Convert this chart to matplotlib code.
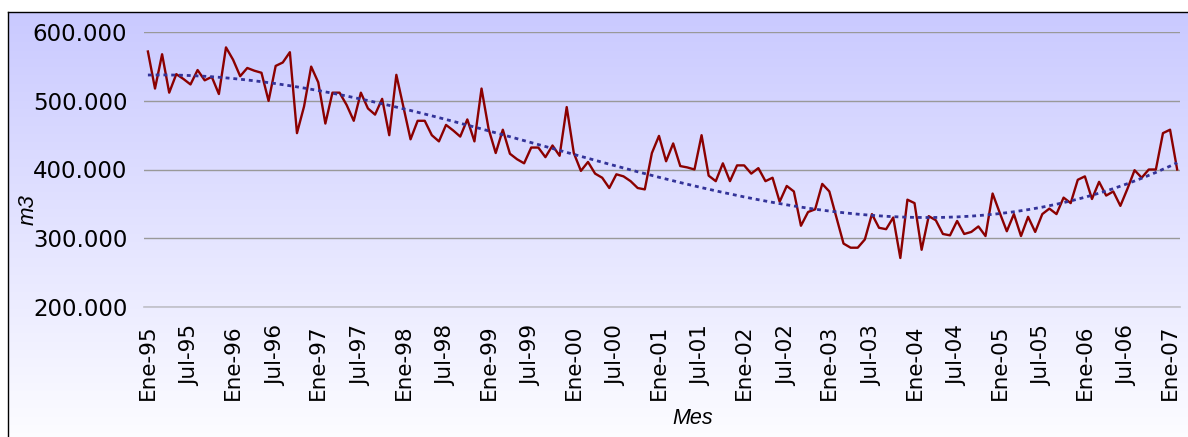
import numpy as np
import matplotlib
matplotlib.use("Agg")
import matplotlib.pyplot as plt
from matplotlib.ticker import FuncFormatter

# consumo mensual (miles de m3), Ene-95 .. Feb-07
consumo_miles = [
    572, 518, 568, 512, 539, 532, 524, 545, 530, 535, 510, 578,
    560, 536, 548, 544, 541, 500, 551, 556, 571, 453, 492, 550,
    527, 467, 512, 512, 494, 471, 512, 489, 480, 503, 450, 538,
    491, 444, 471, 471, 450, 441, 465, 457, 448, 473, 441, 518,
    459, 424, 458, 423, 415, 409, 432, 432, 418, 435, 420, 491,
    424, 398, 411, 394, 388, 373, 393, 390, 383, 373, 371, 424,
    449, 412, 438, 405, 403, 400, 450, 391, 383, 409, 383, 406,
    406, 394, 402, 383, 388, 353, 376, 368, 318, 338, 342, 379,
    368, 330, 292, 286, 286, 298, 335, 315, 313, 330, 271, 356,
    351, 283, 332, 326, 306, 304, 325, 306, 309, 317, 303, 365,
    337, 310, 335, 303, 331, 309, 335, 343, 335, 359, 351, 385,
    390, 357, 382, 362, 368, 347, 372, 399, 388, 400, 400, 453,
    458, 400,
]
tick_labels = [
    "Ene-95", "Jul-95", "Ene-96", "Jul-96", "Ene-97", "Jul-97", "Ene-98",
    "Jul-98", "Ene-99", "Jul-99", "Ene-00", "Jul-00", "Ene-01", "Jul-01",
    "Ene-02", "Jul-02", "Ene-03", "Jul-03", "Ene-04", "Jul-04", "Ene-05",
    "Jul-05", "Ene-06", "Jul-06", "Ene-07",
]
y_ticks = [200000, 300000, 400000, 500000, 600000]

valores = np.array(consumo_miles) * 1000
meses = np.arange(len(valores))
# linea de tendencia polinomica (orden 3), como la de la hoja de calculo
tendencia = np.polyval(np.polyfit(meses, valores, 3), meses)

W, H = 1188, 437
fig = plt.figure(figsize=(W / 100, H / 100), dpi=100)

# fondo degradado con borde negro
bg = fig.add_axes([8 / W, -0.05, 1.05, 1 - 12 / H + 0.05], zorder=0)
grad = np.linspace(0, 1, 256).reshape(-1, 1)
top = np.array([0.79, 0.79, 1.0])
bottom = np.array([1.0, 1.0, 1.0])
img = top + (bottom - top) * grad[..., None]
bg.imshow(img, aspect="auto", extent=[0, 1, 0, 1], origin="upper")
bg.set_xticks([])
bg.set_yticks([])
for s in ["right", "bottom"]:
    bg.spines[s].set_visible(False)
for s in ["left", "top"]:
    bg.spines[s].set_linewidth(1.0)
    bg.spines[s].set_color("black")

ax = fig.add_axes([144 / W, 1 - 306.7 / H, (1180 - 144) / W, (306.7 - 32.3) / H], zorder=1)
ax.patch.set_alpha(0)
ax.plot(meses, valores, color="#8b0000", lw=1.7, zorder=3)
ax.plot(meses, tendencia, color="#333399", lw=2.0, linestyle=(0, (1.4, 1.4)), zorder=4)

ax.set_xlim(-0.55, 145.4)
ax.set_ylim(200000, 600000)
ax.set_yticks(y_ticks)
ax.yaxis.set_major_formatter(FuncFormatter(lambda v, p: f"{int(v):,}".replace(",", ".")))
ax.set_xticks(range(0, 6 * len(tick_labels), 6))
ax.set_xticklabels(tick_labels, rotation=90)
ax.tick_params(axis="y", length=0, pad=12, labelsize=16.5)
ax.tick_params(axis="x", length=0, pad=13, labelsize=15.5)
ax.grid(axis="y", color="#999999", lw=1.0)
ax.set_axisbelow(True)
for s in ["left", "right", "top"]:
    ax.spines[s].set_visible(False)
ax.spines["bottom"].set_color("#c0c0c8")
ax.spines["bottom"].set_linewidth(1.2)

fig.text(28 / W, 1 - 210 / H, "m3", rotation=90, ha="center", va="center",
         fontsize=16, style="italic", family="Liberation Sans")
fig.text(693 / W, 1 - 418 / H, "Mes", ha="center", va="center",
         fontsize=15.5, style="italic", family="Liberation Sans")

fig.savefig("out.png", dpi=100)
